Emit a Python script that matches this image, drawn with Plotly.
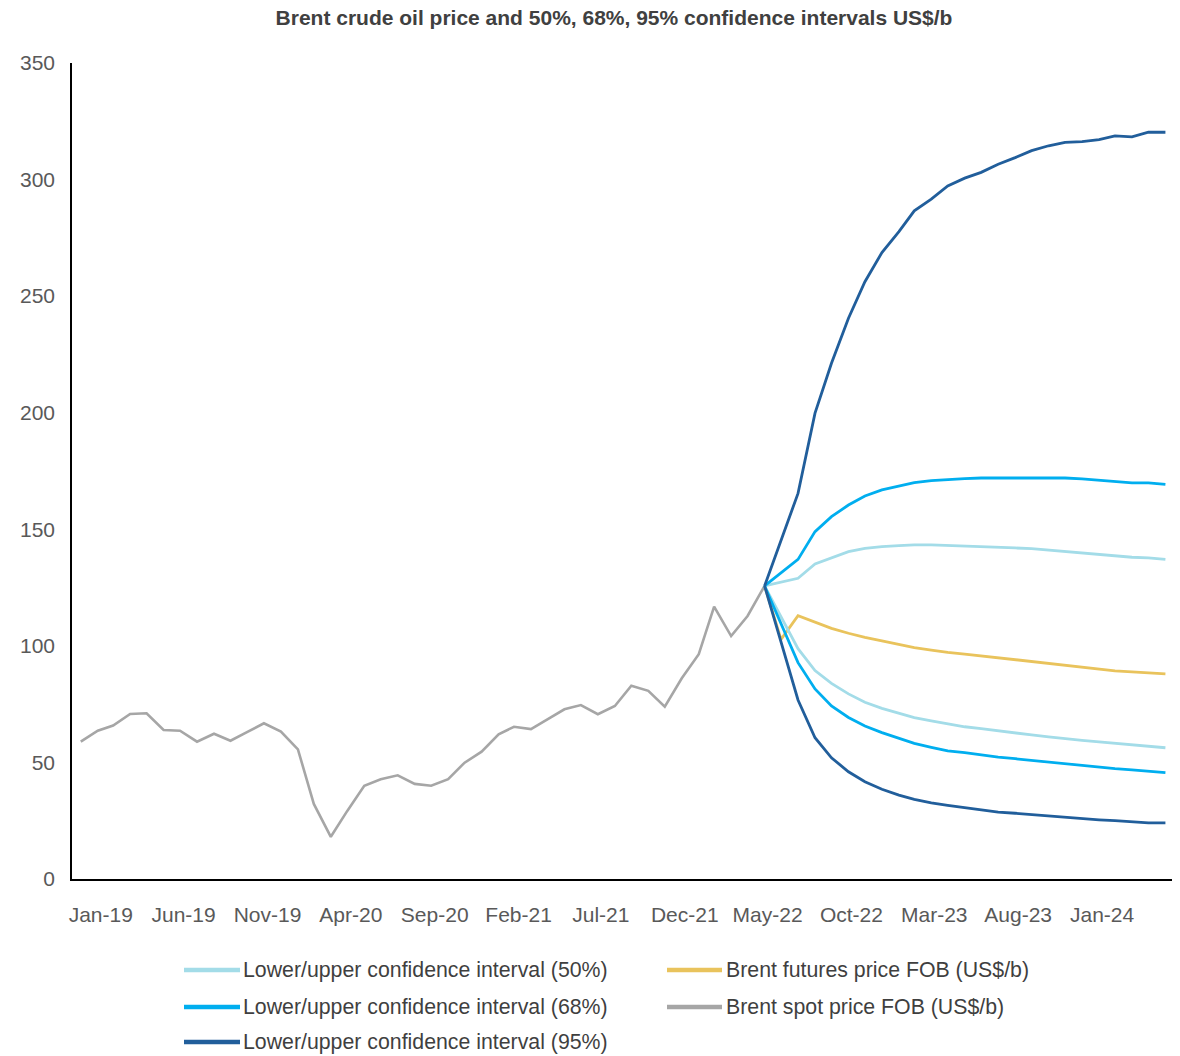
import pandas as pd
import plotly.graph_objects as go

# Monthly axis: Jan-2019 .. Jun-2024
months = pd.date_range("2019-01-01", "2024-06-01", freq="MS")

# Brent spot price FOB (US$/b), Jan-19 .. Jun-22
spot = [58.9, 63.6, 65.8, 70.8, 71.1, 63.9, 63.6, 58.9, 62.3, 59.3, 63.1, 66.8,
        63.2, 55.6, 32.2, 18.1, 29.2, 40.0, 42.8, 44.5, 40.8, 40.0, 42.8, 49.9,
        54.6, 62.1, 65.3, 64.3, 68.5, 72.8, 74.6, 70.7, 74.2, 82.9, 80.7, 73.9,
        86.1, 96.4, 116.8, 104.2, 112.8, 125.7]

# Brent futures price FOB (US$/b), Jul-22 .. Jun-24
futures = [102.8, 112.9, 110.0, 107.5, 105.4, 103.6, 102.1, 100.7, 99.2, 98.2,
           97.2, 96.5, 95.7, 94.8, 94.0, 93.2, 92.5, 91.6, 90.8, 90.1, 89.3,
           88.8, 88.4, 88.0]

# Confidence bands, Aug-22 .. Jun-24
ci50_upper = [129.0, 135.1, 137.8, 140.4, 141.8, 142.6, 143.0, 143.3, 143.3, 143.1,
              142.9, 142.6, 142.3, 142.0, 141.7, 141.1, 140.5, 139.9, 139.1, 138.6,
              138.0, 137.7, 137.1]
ci50_lower = [98.8, 89.4, 83.9, 79.4, 75.8, 73.2, 71.1, 69.2, 67.8, 66.5,
              65.3, 64.5, 63.5, 62.6, 61.8, 61.0, 60.4, 59.5, 58.8, 58.2,
              57.5, 56.9, 56.3]
ci68_upper = [137.1, 149.0, 155.4, 160.4, 164.3, 166.9, 168.6, 170.0, 170.9, 171.4,
              171.7, 172.0, 172.0, 172.3, 172.3, 172.3, 172.0, 171.6, 171.0, 170.7,
              169.9, 169.9, 169.3]
ci68_lower = [92.8, 81.5, 74.2, 69.3, 65.6, 62.8, 60.4, 58.2, 56.5, 55.0,
              54.2, 53.2, 52.3, 51.6, 50.9, 50.2, 49.3, 48.8, 47.9, 47.3,
              46.8, 46.2, 45.6]
ci95_upper = [165.4, 199.8, 221.2, 240.5, 256.2, 268.7, 277.7, 286.6, 291.6, 297.3,
              300.6, 303.1, 306.6, 309.4, 312.4, 314.5, 316.0, 316.3, 317.1, 318.7,
              318.3, 320.3, 320.3]
ci95_lower = [76.8, 60.6, 52.0, 46.0, 41.7, 38.5, 36.0, 34.2, 32.7, 31.6,
              30.6, 29.6, 28.7, 28.2, 27.6, 27.0, 26.5, 25.9, 25.4, 25.0,
              24.5, 24.1, 24.1]

tick_labels_y = [0, 50, 100, 150, 200, 250, 300, 350]

legend_items = [
    ("Lower/upper confidence interval (50%)", "#A3DCE8"),
    ("Lower/upper confidence interval (68%)", "#00AEEF"),
    ("Lower/upper confidence interval (95%)", "#215E9B"),
    ("Brent futures price FOB (US$/b)", "#E9C35C"),
    ("Brent spot price FOB (US$/b)", "#A6A6A6"),
]
COL = {name: c for name, c in legend_items}

spot_x = list(months[:len(spot)])
anchor_x = spot_x[-1]
anchor_y = spot[-1]
fut_x = [anchor_x] + list(months[len(spot):])
band_x = [anchor_x] + list(months[len(spot) + 1:])

fig = go.Figure()
fig.add_trace(go.Scatter(x=spot_x, y=spot, mode="lines",
                         line=dict(color=COL["Brent spot price FOB (US$/b)"], width=2.6),
                         showlegend=False))
fig.add_trace(go.Scatter(x=fut_x, y=[anchor_y] + futures, mode="lines",
                         line=dict(color=COL["Brent futures price FOB (US$/b)"], width=2.8),
                         showlegend=False))

bands = [
    ("Lower/upper confidence interval (50%)", ci50_lower, ci50_upper),
    ("Lower/upper confidence interval (68%)", ci68_lower, ci68_upper),
    ("Lower/upper confidence interval (95%)", ci95_lower, ci95_upper),
]
for name, lo, hi in bands:
    for vals in (lo, hi):
        fig.add_trace(go.Scatter(x=band_x, y=[anchor_y] + vals, mode="lines",
                                 line=dict(color=COL[name], width=2.8),
                                 showlegend=False))

# Plot area geometry (pixels)
W, H = 1180, 1056
ML, MR, MT, MB = 72, 8, 63, 177
PW, PH = W - ML - MR, H - MT - MB


def px_x(p):
    return (p - ML) / PW


def px_y(p):
    return (H - MB - p) / PH


FONT = "Liberation Sans, Arial, Helvetica, sans-serif"

# Legend drawn below the plot in two columns
legend_slots = [(184, 240, 241, 970), (184, 240, 241, 1007), (184, 240, 241, 1042),
                (667, 722, 724, 970), (667, 722, 724, 1007)]
shapes = []
annotations = []
for (name, color), (x0, x1, tx, ty) in zip(legend_items, legend_slots):
    shapes.append(dict(type="line", xref="paper", yref="paper",
                       x0=px_x(x0), x1=px_x(x1), y0=px_y(ty), y1=px_y(ty),
                       line=dict(color=color, width=4.5)))
    annotations.append(dict(xref="paper", yref="paper", x=px_x(tx), y=px_y(ty),
                            xanchor="left", yanchor="middle", showarrow=False,
                            text=name, font=dict(family=FONT, size=21.3, color="#3F3F3F")))

fig.update_layout(
    width=W, height=H,
    margin=dict(l=ML, r=MR, t=MT, b=MB),
    paper_bgcolor="white", plot_bgcolor="white",
    title=dict(text="<b>Brent crude oil price and 50%, 68%, 95% confidence intervals US$/b</b>",
               xref="paper", x=px_x(614), xanchor="center",
               yref="container", y=1 - 18 / H, yanchor="middle",
               font=dict(family=FONT, size=21, color="#404040")),
    shapes=shapes,
    annotations=annotations,
    showlegend=False,
)
fig.update_xaxes(type="date", range=["2018-12-16", "2024-06-13"],
                 tick0="2019-01-01", dtick="M5", tickformat="%b-%y",
                 showgrid=False, zeroline=False, showline=True,
                 linecolor="black", linewidth=2, ticks="",
                 ticklabelshift=20, ticklabelstandoff=16,
                 tickfont=dict(family=FONT, size=21, color="#595959"))
fig.update_yaxes(range=[0, 350], tickvals=tick_labels_y,
                 showgrid=False, zeroline=False, showline=True,
                 linecolor="black", linewidth=1.5, ticks="",
                 ticklabelstandoff=11,
                 tickfont=dict(family=FONT, size=21, color="#595959"))

fig.write_html("out.html")
